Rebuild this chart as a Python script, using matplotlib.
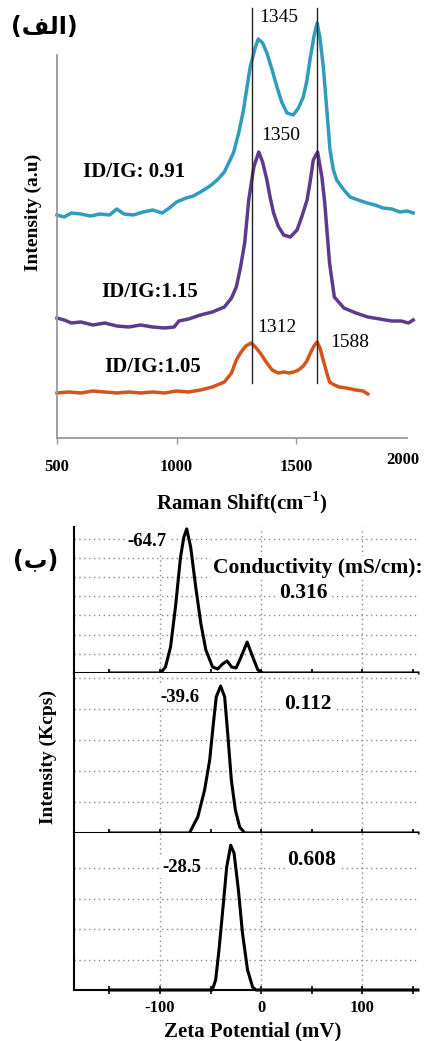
import matplotlib
matplotlib.use("Agg")
import matplotlib.pyplot as plt

plt.rcParams['mathtext.fontset'] = 'custom'
plt.rcParams['mathtext.rm'] = 'Liberation Serif'
plt.rcParams['mathtext.bf'] = 'Liberation Serif:bold'

# ---------------- Raman data (top panel) ----------------
teal_x = [500, 530, 560, 600, 640, 680, 720, 750, 780, 820, 860, 900, 940, 970, 1000, 1040, 1070,
          1100, 1140, 1170, 1200, 1238, 1260, 1280, 1308, 1330, 1342, 1360, 1378, 1400, 1420, 1440,
          1462, 1488, 1510, 1530, 1545, 1558, 1575, 1588, 1600, 1614, 1628, 1642, 1656, 1670, 1700,
          1726, 1760, 1797, 1830, 1864, 1900, 1935, 1965, 1990]
teal_y = [223, 221, 225, 224, 222, 224, 223, 229, 224, 223, 226, 228, 225, 230, 236, 240, 242,
          246, 252, 258, 266, 285, 305, 328, 371, 391, 399, 395, 385, 368, 351, 336,
          325, 323, 330, 341, 357, 378, 402, 415, 400, 371, 330, 288, 268, 258, 248,
          241, 238, 235, 233, 230, 229, 226, 227, 225]

purple_x = [500, 530, 560, 600, 650, 700, 750, 800, 850, 900, 950, 990, 1010, 1050, 1100, 1150,
            1200, 1230, 1250, 1267, 1285, 1302, 1323, 1344, 1360, 1378, 1392, 1406, 1425, 1448,
            1476, 1504, 1525, 1546, 1560, 1572, 1590, 1608, 1620, 1630, 1640, 1660, 1700, 1750,
            1800, 1850, 1900, 1940, 1970, 1990]
purple_y = [120, 118, 115, 116, 113, 115, 112, 111, 113, 111, 110, 111, 117, 119, 123, 126,
            131, 140, 151, 170, 195, 238, 271, 286, 276, 258, 240, 225, 212, 203,
            201, 208, 222, 238, 258, 278, 286, 261, 235, 205, 175, 141, 130, 125,
            121, 119, 117, 117, 115, 118]

orange_x = [500, 550, 600, 650, 700, 750, 800, 850, 900, 950, 1000, 1050, 1100, 1150, 1200, 1230,
            1250, 1270, 1290, 1312, 1330, 1350, 1375, 1400, 1425, 1450, 1470, 1490, 1510, 1530,
            1545, 1560, 1575, 1588, 1600, 1610, 1625, 1640, 1660, 1680, 1710, 1750, 1780, 1800]
orange_y = [45, 46, 45, 47, 46, 45, 46, 45, 46, 45, 47, 46, 48, 51, 56, 65,
            78, 86, 92, 95, 91, 85, 76, 68, 65, 66, 65, 66, 68, 72,
            77, 85, 92, 96, 90, 81, 68, 56, 53, 51, 50, 48, 47, 44]

peak_lines = [1316, 1588]
raman_ticks = [500, 1000, 1500]
raman_labels = ['500', '1000', '1500']

# ---------------- Zeta potential data (bottom panel) ----------------
z1_x = [-150, -99.5, -94.6, -89.6, -84.7, -79.7, -76.4, -73.6, -69.7, -64.7, -59.7, -54.7, -48.0,
        -43.0, -38.1, -33.8, -29.1, -24.8, -19.9, -13.9, -8.3, -3.3, 1.7, 155]
z1_y = [0, 0, 0.31, 1.35, 3.44, 6.04, 7.08, 7.5, 6.56, 4.48, 2.6, 1.2, 0.31,
        0.21, 0.47, 0.63, 0.31, 0.26, 0.83, 1.61, 0.83, 0.16, 0, 0]

z2_x = [-150, -70.9, -62.6, -55.9, -50.9, -47.6, -44.4, -40.1, -36.1, -32.8, -29.5, -25.5, -21.2,
        -16.2, 155]
z2_y = [0, 0, 0.52, 1.39, 2.35, 3.42, 4.39, 4.74, 4.39, 3.1, 1.71, 0.74, 0.19, 0, 0]

z3_x = [-150, -48.3, -45.0, -41.7, -37.7, -34.1, -30.1, -26.8, -22.5, -18.5, -13.5, -8.5, -5.2, 155]
z3_y = [0, 0, 0.33, 1.31, 2.72, 4.03, 4.75, 4.49, 3.28, 1.87, 0.66, 0.1, 0, 0]

zeta_ticks = [-100, 0, 100]
zeta_labels = ['-100', '0', '100']
zeta_minor = [-150, -50, 50, 150]

W, H = 427, 1041
fig = plt.figure(figsize=(W / 100, H / 100), dpi=100)
SERIF = 'Liberation Serif'


def rect(x0, y0, x1, y1):
    return [x0 / W, 1 - y1 / H, (x1 - x0) / W, (y1 - y0) / H]


def ftext(x, y, s, **kw):
    kw.setdefault('family', SERIF)
    kw.setdefault('ha', 'center')
    kw.setdefault('va', 'center')
    return fig.text(x / W, 1 - y / H, s, **kw)


# ---------------- top panel ----------------
ax = fig.add_axes(rect(57, 55, 407, 438))
ax.set_xlim(500, 1964)
ax.set_ylim(0, 383)
lw = 2.5
ax.plot(teal_x, teal_y, color='#2f9bbf', lw=lw, clip_on=False)
ax.plot(purple_x, purple_y, color='#5e3a8f', lw=lw, clip_on=False)
ax.plot(orange_x, orange_y, color='#d4541c', lw=lw, clip_on=False)
for xv in peak_lines:
    ax.plot([xv, xv], [55, 430], color='#222222', lw=1.0, clip_on=False)
for s in ['top', 'right']:
    ax.spines[s].set_visible(False)
for s in ['left', 'bottom']:
    ax.spines[s].set_color('#999999')
    ax.spines[s].set_linewidth(1.3)
ax.set_yticks([])
ax.set_xticks(raman_ticks)
ax.set_xticklabels(raman_labels, family=SERIF, fontweight='bold', fontsize=12)
ax.tick_params(axis='x', length=4, width=1, color='#999999', pad=11)

ftext(44, 27, '(\uFED2\uFEDF\uFE8D)', family='DejaVu Sans', fontweight='bold', fontsize=17)
ftext(279, 17, '1345', fontsize=14)
ftext(281, 135, '1350', fontsize=14)
ftext(277, 328, '1312', fontsize=14)
ftext(350, 343, '1588', fontsize=14)
ftext(134, 172, 'ID/IG: 0.91', fontweight='bold', fontsize=15)
ftext(150, 292, 'ID/IG:1.15', fontweight='bold', fontsize=15)
ftext(153, 367, 'ID/IG:1.05', fontweight='bold', fontsize=15)
ftext(403, 460, '2000', fontweight='bold', fontsize=12)
ftext(242, 503, r'Raman Shift(cm$^{\mathbf{-1}}$)', fontweight='bold', fontsize=15)
ftext(33, 212, 'Intensity (a.u)', fontweight='bold', fontsize=14, rotation=90)

# ---------------- bottom panels ----------------
panels = [
    (527, 673, z1_x, z1_y, 7.6, [1, 2, 3, 4, 5, 6, 7]),
    (673, 833, z2_x, z2_y, 5.16, [1, 2, 3, 4, 5]),
    (833, 990, z3_x, z3_y, 5.15, [1, 2, 3, 4]),
]
for i, (top, bot, xs, ys, ymax, yt) in enumerate(panels):
    a = fig.add_axes(rect(74, top, 418, bot))
    a.set_xlim(-185, 155)
    a.set_ylim(0, ymax)
    a.set_yticks(yt)
    a.set_xticks(zeta_ticks)
    a.set_xticks(zeta_minor, minor=True)
    a.grid(True, which='major', linestyle=(0, (1, 2.5)), color='#888888', lw=1.0)
    a.plot(xs, ys, color='black', lw=2.2, clip_on=False, zorder=3)
    a.tick_params(axis='y', length=0, labelleft=False)
    a.tick_params(axis='x', which='both', direction='inout', length=6, width=1.2, color='black')
    for s in ['top', 'right']:
        a.spines[s].set_visible(False)
    a.spines['left'].set_linewidth(1.5)
    a.spines['bottom'].set_linewidth(1.5)
    if i < 2:
        a.tick_params(axis='x', labelbottom=False)
    else:
        a.set_xticklabels(zeta_labels, family=SERIF, fontweight='bold', fontsize=12)
        a.tick_params(axis='x', pad=4)

box = dict(facecolor='white', edgecolor='none', pad=1.5)
ftext(36, 560, '(\uFE8F)', family='DejaVu Sans', fontweight='bold', fontsize=17)
ftext(147, 542, '-64.7', fontweight='bold', fontsize=13.5, bbox=box)
ftext(318, 568, 'Conductivity (mS/cm):', fontweight='bold', fontsize=15.5, bbox=box)
ftext(303, 593, '0.316', fontweight='bold', fontsize=15.5, bbox=box)
ftext(180, 697, '-39.6', fontweight='bold', fontsize=13.5, bbox=box)
ftext(308, 704, '0.112', fontweight='bold', fontsize=15.5, bbox=box)
ftext(182, 867, '-28.5', fontweight='bold', fontsize=13.5, bbox=box)
ftext(312, 860, '0.608', fontweight='bold', fontsize=15.5, bbox=box)
ftext(48, 757, 'Intensity (Kcps)', fontweight='bold', fontsize=14, rotation=90)
ftext(253, 1031, 'Zeta Potential (mV)', fontweight='bold', fontsize=15)

fig.savefig('out.png', dpi=100)
